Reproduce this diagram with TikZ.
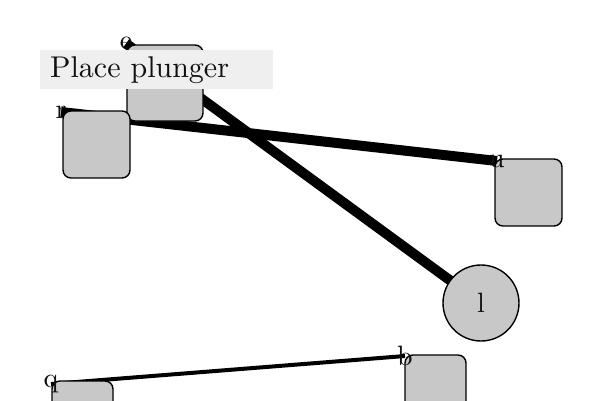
\documentclass[tikz,border=0pt]{standalone}
\usepackage{graphicx}
\usetikzlibrary{backgrounds}
\definecolor{boxgray}{HTML}{C8C8C8}
\definecolor{bannergray}{HTML}{EFEFEF}
\definecolor{inkgray}{HTML}{111111}
% text set at the 10pt design size and enlarged
\newcommand{\tagtext}[1]{\scalebox{2.8}{\fontsize{10}{12}\selectfont #1}}
\newcommand{\bannertext}[1]{\scalebox{3.0}{\fontsize{10}{12}\selectfont #1}}
\begin{document}
\begin{tikzpicture}[x=1pt,y=-1pt,
  stepbox/.style={draw=black,line width=1.4pt,fill=boxgray,rounded corners=8pt,
    minimum size=#1,inner sep=0pt},
  stepcirc/.style={draw=black,line width=1.4pt,fill=boxgray,circle,
    minimum size=76pt,inner sep=0pt,text=inkgray},
  tag/.style={inner sep=0pt,text=inkgray},
  heavy/.style={draw=black,line width=10pt},
  light/.style={draw=black,line width=4pt},
  banner/.style={fill=bannergray,inner xsep=10pt,inner ysep=0pt,minimum width=233pt,
    minimum height=39pt,anchor=north west,align=left,text width=213pt,text=inkgray}]
\useasboundingbox (0,0) rectangle (600,400);
\clip (0,0) rectangle (600,400);

% rounded step boxes and the round step
\node[stepbox=76pt] (sa) at (165,83) {};
\node[stepbox=67pt] (sb) at (96.5,144.5) {};
\node[stepbox=67pt] (sc) at (528.5,192.5) {};
\node[stepbox=61pt] (sd) at (435.5,385.5) {};
\node[stepbox=61pt] (se) at (82.5,411.5) {};
\node[stepcirc] (sl) at (481,303) {\tagtext{l}};

% corner tags
\node[tag] (ta) at (126,43.5) {\tagtext{e}};
\node[tag] (tb) at (61,112) {\tagtext{r}};
\node[tag] (tc) at (497,161) {\tagtext{u}};
\node[tag] (td) at (405,356) {\tagtext{b}};
\node[tag] (te) at (51,384) {\tagtext{q}};

% connectors run behind the boxes
\begin{pgfonlayer}{background}
  \draw[heavy] (tb.center) -- (tc.center);
  \draw[heavy] (ta.center) -- (sl.center);
  \draw[light] (te.center) -- (td.center);
\end{pgfonlayer}

% caption banner
\node[banner] (cap) at (40,50) {\bannertext{Place plunger}};
\end{tikzpicture}
\end{document}
